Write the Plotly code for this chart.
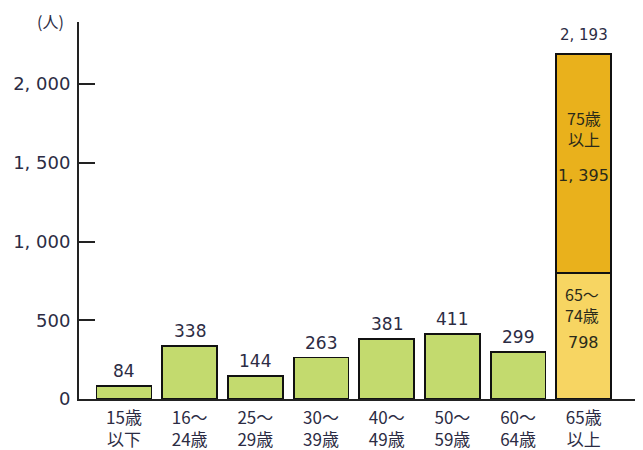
import plotly.graph_objects as go

categories = ["15歳<br>以下", "16～<br>24歳", "25～<br>29歳", "30～<br>39歳",
              "40～<br>49歳", "50～<br>59歳", "60～<br>64歳", "65歳<br>以上"]
young_values = [84, 338, 144, 263, 381, 411, 299]
young_labels = ["84", "338", "144", "263", "381", "411", "299"]
senior_65_74 = 798
senior_75_up = 1395
senior_total = 2193
senior_65_74_name = "65～<br>74歳"
senior_75_up_name = "75歳<br>以上"
senior_65_74_label = "798"
senior_75_up_label = "1, 395"
senior_total_label = "2, 193"
y_tick_vals = [0, 500, 1000, 1500, 2000]
y_tick_text = ["0", "500", "1, 000", "1, 500", "2, 000"]

num_font = "DejaVu Sans, Liberation Sans"
jp_font = "Noto Sans CJK JP, DejaVu Sans"
text_color = "#2c2c44"
inner_color = "#2a2a1a"

fig = go.Figure()
fig.add_trace(go.Bar(
    x=categories[:7], y=young_values,
    marker=dict(color="#c3da6e", line=dict(color="#111111", width=1.8)),
    width=0.835, showlegend=False, hoverinfo="skip",
))
fig.add_trace(go.Bar(
    x=[categories[7]], y=[senior_65_74],
    marker=dict(color="#f7d562", line=dict(color="#111111", width=1.8)),
    width=0.835, showlegend=False, hoverinfo="skip",
))
fig.add_trace(go.Bar(
    x=[categories[7]], y=[senior_75_up],
    marker=dict(color="#e9b11c", line=dict(color="#111111", width=1.8)),
    width=0.835, showlegend=False, hoverinfo="skip",
))

# value labels above green bars
for cat, val, lab in zip(categories[:7], young_values, young_labels):
    fig.add_annotation(x=cat, y=val, text=lab, showarrow=False,
                       yanchor="middle", yshift=15,
                       font=dict(family=num_font, size=17, color=text_color))

fig.add_annotation(x=categories[7], y=senior_total, text=senior_total_label,
                   showarrow=False, yanchor="middle", yshift=19,
                   font=dict(family=num_font, size=15, color=text_color))

# inside labels, 65-74
fig.add_annotation(x=categories[7], y=senior_65_74 * 0.75, text=senior_65_74_name,
                   showarrow=False, yanchor="middle", xshift=-2,
                   font=dict(family=jp_font, size=16, color=inner_color))
fig.add_annotation(x=categories[7], y=senior_65_74 * 0.45, text=senior_65_74_label,
                   showarrow=False, yanchor="middle",
                   font=dict(family=num_font, size=16, color=inner_color))
# inside labels, 75+
fig.add_annotation(x=categories[7], y=senior_65_74 + senior_75_up * 0.66,
                   text=senior_75_up_name, showarrow=False, yanchor="middle",
                   font=dict(family=jp_font, size=16, color=inner_color))
fig.add_annotation(x=categories[7], y=senior_65_74 + senior_75_up * 0.447,
                   text=senior_75_up_label, showarrow=False, yanchor="middle",
                   font=dict(family=num_font, size=16, color=inner_color))

fig.add_annotation(xref="paper", yref="paper", x=-0.052, y=1.0, text="(人)",
                   showarrow=False, xanchor="center", yanchor="middle", yshift=1,
                   font=dict(family=jp_font, size=16, color=text_color))

fig.update_layout(
    width=635, height=442,
    margin=dict(l=71, r=8, t=14, b=51, autoexpand=False),
    barmode="stack",
    plot_bgcolor="white", paper_bgcolor="white",
    font=dict(family=jp_font, color=text_color),
)
fig.update_xaxes(
    range=[-0.685, 7.78], showgrid=False, showline=True, linecolor="#222222",
    linewidth=1.5, ticks="", tickfont=dict(family=jp_font, size=17, color=text_color),
    tickangle=0, automargin=False, ticklabelstandoff=3,
)
fig.update_yaxes(
    range=[0, 2394], tickvals=y_tick_vals, ticktext=y_tick_text,
    showgrid=False, zeroline=False, showline=True, linecolor="#222222", linewidth=2,
    ticks="inside", ticklen=16, tickwidth=1.5, tickcolor="#222222",
    tickfont=dict(family=num_font, size=18, color=text_color), ticklabelstandoff=3,
    automargin=False,
)

fig.write_html("out.html")
